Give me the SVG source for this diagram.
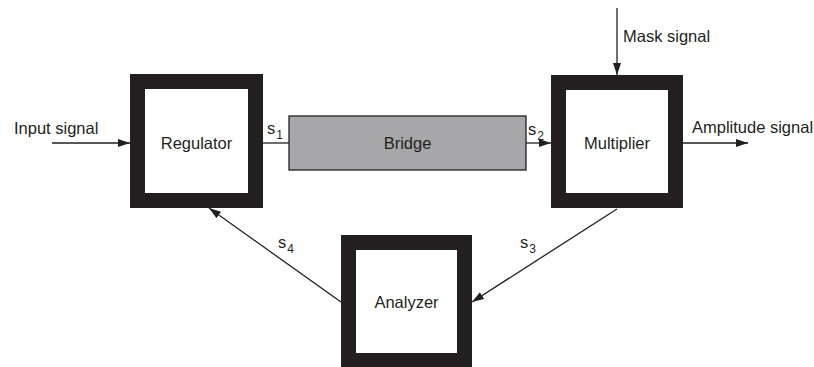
<svg xmlns="http://www.w3.org/2000/svg" width="814" height="367" viewBox="0 0 814 367">
  <style>
    .block { fill: #ffffff; stroke: #231f20; stroke-width: 15; }
    .bridge { fill: #a7a7a9; stroke: #231f20; stroke-width: 1.3; }
    .label { font-family: "Liberation Sans", Arial, sans-serif; font-size: 16.5px; fill: #231f20; }
    .sub { font-size: 12px; }
    .wire { stroke: #231f20; stroke-width: 1.3; fill: none; }
  </style>
  <defs>
    <marker id="arrow" viewBox="0 0 12 8" refX="12" refY="4" markerWidth="12" markerHeight="8" markerUnits="userSpaceOnUse" orient="auto">
      <path d="M0,0 L12,4 L0,8 Z" fill="#231f20"/>
    </marker>
  </defs>

  <rect width="814" height="367" fill="#ffffff"/>

  <g id="connectors">
    <line class="wire" x1="52" y1="143" x2="130" y2="143" marker-end="url(#arrow)"/>
    <line class="wire" x1="263" y1="143" x2="289" y2="143"/>
    <line class="wire" x1="526" y1="143" x2="551" y2="143" marker-end="url(#arrow)"/>
    <line class="wire" x1="617" y1="8" x2="617" y2="75" marker-end="url(#arrow)"/>
    <line class="wire" x1="683" y1="143" x2="748" y2="143" marker-end="url(#arrow)"/>
    <line class="wire" x1="617" y1="209" x2="472" y2="302" marker-end="url(#arrow)"/>
    <line class="wire" x1="341" y1="302" x2="209" y2="208" marker-end="url(#arrow)"/>

    <text class="label" x="14" y="134">Input signal</text>
    <text class="label" x="623" y="42">Mask signal</text>
    <text class="label" x="692" y="133">Amplitude signal</text>
    <text class="label" x="267" y="134">s<tspan class="sub" dx="1" dy="5">1</tspan></text>
    <text class="label" x="528" y="135">s<tspan class="sub" dx="1" dy="5">2</tspan></text>
    <text class="label" x="520" y="248">s<tspan class="sub" dx="1" dy="5">3</tspan></text>
    <text class="label" x="278" y="248">s<tspan class="sub" dx="1" dy="5">4</tspan></text>
  </g>

  <g id="regulator">
    <rect class="block" x="137.5" y="81.5" width="118" height="119"/>
    <text class="label" x="196.5" y="149" text-anchor="middle">Regulator</text>
  </g>

  <g id="bridge">
    <rect class="bridge" x="289" y="116" width="237" height="54"/>
    <text class="label" x="407.5" y="149" text-anchor="middle">Bridge</text>
  </g>

  <g id="multiplier">
    <rect class="block" x="558.5" y="82.5" width="117" height="118"/>
    <text class="label" x="617" y="149" text-anchor="middle">Multiplier</text>
  </g>

  <g id="analyzer">
    <rect class="block" x="348.5" y="242.5" width="116" height="118"/>
    <text class="label" x="406.5" y="308" text-anchor="middle">Analyzer</text>
  </g>
</svg>
